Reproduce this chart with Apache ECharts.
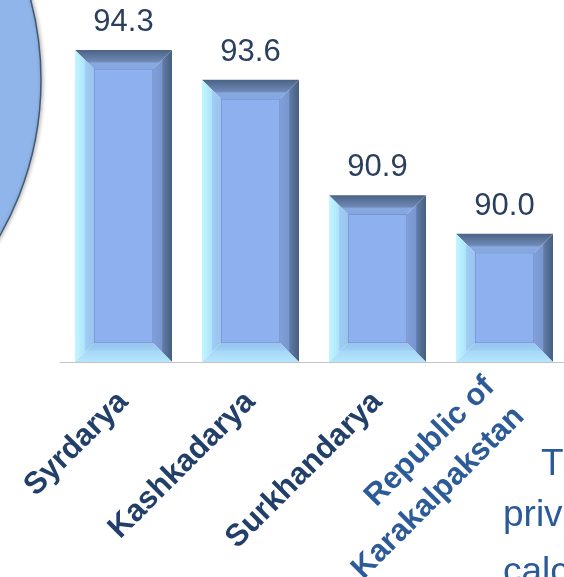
<!DOCTYPE html>
<html>
<head>
<meta charset="utf-8">
<script src="https://cdn.jsdelivr.net/npm/echarts@6/dist/echarts.min.js"></script>
<style>
  html, body { margin: 0; padding: 0; background: #fff; }
  #container { width: 564px; height: 577px; }
</style>
</head>
<body>
<div id="container"></div>
<script>
var regions = ['Syrdarya', 'Kashkadarya', 'Surkhandarya', 'Republic of\nKarakalpakstan'];
var shares = [94.3, 93.6, 90.9, 90.0];
var yMin = 87;
var yMax = 95;

function grad(x, y, x2, y2, stops) {
    return new echarts.graphic.LinearGradient(x, y, x2, y2, stops.map(function (s) {
        return { offset: s[0], color: s[1] };
    }));
}

// beveled "picture frame" bar, like the office 3d bar style
function renderBar(params, api) {
    var idx = api.value(0);
    var val = api.value(1);
    var top = api.coord([idx, val]);
    var base = api.coord([idx, yMin]);
    var w = api.size([1, 0])[0] * 0.764;
    var x0 = top[0] - w / 2, x1 = top[0] + w / 2;
    var y0 = top[1], y1 = base[1];
    var b = 19;
    var ix0 = x0 + b, ix1 = x1 - b, iy0 = y0 + b, iy1 = y1 - b;
    return {
        type: 'group',
        children: [{
            type: 'rect',
            shape: { x: ix0, y: iy0, width: ix1 - ix0, height: iy1 - iy0 },
            style: { fill: '#8eb0ee', stroke: '#6f8ecb', lineWidth: 1.2 }
        }, {
            type: 'polygon',
            shape: { points: [[x0, y0], [x1, y0], [ix1, iy0], [ix0, iy0]] },
            style: { fill: grad(0, 0, 0, 1, [[0, '#4b6385'], [0.6, '#6d88b4'], [0.7, '#88a8e0'], [1, '#86a6de']]) }
        }, {
            type: 'polygon',
            shape: { points: [[x0, y0], [ix0, iy0], [ix0, iy1], [x0, y1]] },
            style: { fill: grad(0, 0, 1, 0, [[0, '#c2f6ff'], [0.5, '#aee4fc'], [0.56, '#9fcdf3'], [1, '#98c4ee']]) }
        }, {
            type: 'polygon',
            shape: { points: [[x1, y0], [x1, y1], [ix1, iy1], [ix1, iy0]] },
            style: { fill: grad(0, 0, 1, 0, [[0, '#809fd8'], [0.45, '#7896d0'], [0.52, '#5f7ca6'], [1, '#465e7f']]) }
        }, {
            type: 'polygon',
            shape: { points: [[x0, y1], [ix0, iy1], [ix1, iy1], [x1, y1]] },
            style: { fill: grad(0, 0, 0, 1, [[0, '#98c4ee'], [0.35, '#9ecdf2'], [0.42, '#a6d8f8'], [1, '#b4e6fd']]) }
        }, {
            type: 'text',
            style: {
                text: val.toFixed(1),
                x: top[0],
                y: y0 - 12,
                align: 'center',
                verticalAlign: 'bottom',
                font: '31px "Liberation Sans", Arial, sans-serif',
                fill: '#2a3e5e'
            }
        }]
    };
}

var myChart = echarts.init(document.getElementById('container'));
myChart.setOption({
    animation: false,
    grid: {
        left: 60,
        top: 20,
        width: 508,
        bottom: 215,
        containLabel: false,
        outerBoundsMode: 'none'
    },
    xAxis: {
        type: 'category',
        data: regions.map(function (r, i) {
            // the two-line label sits a little higher than the others
            return i === 3 ? { value: r, textStyle: { color: '#2c5b97', padding: [0, 0, 30, 0] } } : r;
        }),
        axisLine: { lineStyle: { color: '#c4c4c4', width: 1 } },
        axisTick: { length: 7, lineStyle: { color: '#c4c4c4' } },
        axisLabel: {
            interval: 0,
            rotate: 45,
            margin: 35,
            fontSize: 31,
            fontWeight: 'bold',
            lineHeight: 42,
            fontFamily: '"Liberation Sans", Arial, sans-serif',
            color: '#213f69'
        }
    },
    yAxis: {
        type: 'value',
        min: yMin,
        max: yMax,
        show: false,
        splitLine: { show: false }
    },
    graphic: [{
        type: 'circle',
        shape: { cx: -274, cy: 80, r: 315 },
        style: {
            fill: '#8fb5ea',
            stroke: '#46586f',
            lineWidth: 1.5,
            shadowBlur: 4,
            shadowOffsetX: 1,
            shadowColor: 'rgba(0,0,0,0.3)'
        },
        z: -1
    }, {
        type: 'text',
        style: { text: 'T', x: 541, y: 465, verticalAlign: 'middle', font: '37px "Liberation Sans", Arial, sans-serif', fill: '#2b5a98' }
    }, {
        type: 'text',
        style: { text: 'priv', x: 503, y: 516, verticalAlign: 'middle', font: '37px "Liberation Sans", Arial, sans-serif', fill: '#2b5a98' }
    }, {
        type: 'text',
        style: { text: 'calc', x: 503, y: 573, verticalAlign: 'middle', font: '37px "Liberation Sans", Arial, sans-serif', fill: '#2b5a98' }
    }],
    series: [{
        type: 'custom',
        renderItem: renderBar,
        encode: { x: 0, y: 1 },
        data: shares.map(function (v, i) { return [i, v]; })
    }]
});
</script>
</body>
</html>
